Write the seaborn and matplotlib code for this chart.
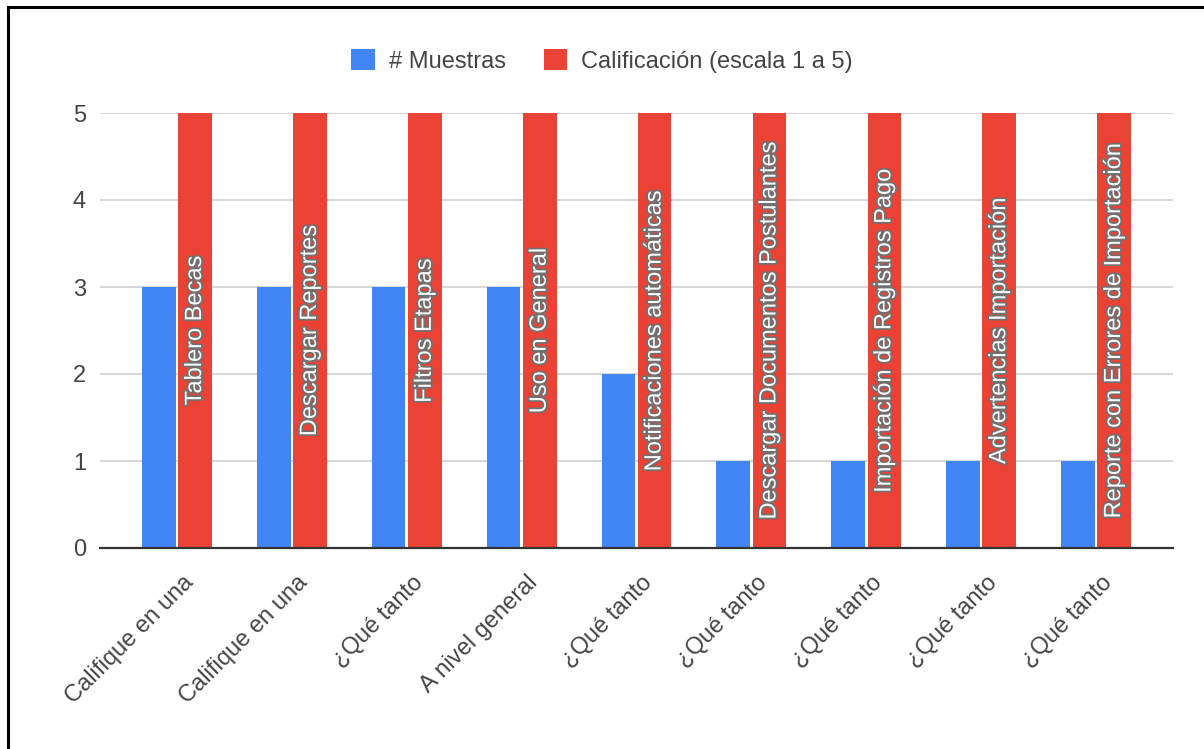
import matplotlib
matplotlib.use("Agg")
import matplotlib.pyplot as plt
import matplotlib.patheffects as pe
from matplotlib.patches import Rectangle
from matplotlib.transforms import ScaledTranslation
import seaborn as sns
import pandas as pd

# Survey results: one group per evaluated feature
areas = [
    "Tablero Becas",
    "Descargar Reportes",
    "Filtros Etapas",
    "Uso en General",
    "Notificaciones automáticas",
    "Descargar Documentos Postulantes",
    "Importación de Registros Pago",
    "Advertencias Importación",
    "Reporte con Errores de Importación",
]
preguntas = [
    "Califique en una",
    "Califique en una",
    "¿Qué tanto",
    "A nivel general",
    "¿Qué tanto",
    "¿Qué tanto",
    "¿Qué tanto",
    "¿Qué tanto",
    "¿Qué tanto",
]
muestras = [3, 3, 3, 3, 2, 1, 1, 1, 1]
calificacion = [5, 5, 5, 5, 5, 5, 5, 5, 5]
series = ["# Muestras", "Calificación (escala 1 a 5)"]
yticks = [0, 1, 2, 3, 4, 5]

df = pd.DataFrame({
    "area": areas * 2,
    "serie": [series[0]] * len(areas) + [series[1]] * len(areas),
    "valor": muestras + calificacion,
})

sns.set_theme(style="white")
plt.rcParams["font.family"] = ["Liberation Sans", "DejaVu Sans"]

BLUE = "#4285F4"
RED = "#EA4335"
TXT = "#444444"
FS = 17

fig = plt.figure(figsize=(12.04, 7.49), dpi=100)
W, H = 1204, 749
ax = fig.add_axes([100 / W, 1 - 548 / H, (1173 - 100) / W, (548 - 113) / H])

sns.barplot(
    data=df, x="area", y="valor", hue="serie", order=areas, hue_order=series,
    palette=[BLUE, RED], width=0.63, gap=0.07, saturation=1,
    linewidth=0, ax=ax, legend=True,
)

ax.set_xlim(-0.67, len(areas) - 1 + 0.67)
ax.set_ylim(0, 5)
ax.set_yticks(yticks)
ax.set_yticklabels([str(v) for v in yticks], fontsize=FS, color=TXT)
ax.set_xlabel("")
ax.set_ylabel("")

ax.grid(axis="y", color="#d0d0d0", linewidth=1.2)
ax.grid(axis="x", visible=False)
ax.set_axisbelow(True)
for side in ("top", "right", "left"):
    ax.spines[side].set_visible(False)
ax.spines["bottom"].set_color("#333333")
ax.spines["bottom"].set_linewidth(1.6)
ax.spines["bottom"].set_zorder(5)
ax.tick_params(axis="both", length=0)
ax.tick_params(axis="y", pad=10)

# Slanted category labels
ax.set_xticks(range(len(areas)))
ax.set_xticklabels(preguntas, fontsize=FS, color=TXT, rotation=45,
                   ha="right", va="top", rotation_mode="anchor")
ax.tick_params(axis="x", pad=17)
shift = ScaledTranslation(5 / 100, 0, fig.dpi_scale_trans)
for lbl in ax.get_xticklabels():
    lbl.set_transform(lbl.get_transform() + shift)

# Feature names written inside the rating bars
outline = [pe.withStroke(linewidth=2.5, foreground="#707070")]
for bar, nombre, val in zip(ax.containers[1], areas, calificacion):
    cx = bar.get_x() + bar.get_width() / 2
    ax.text(cx, val / 2, nombre, rotation=90, ha="center", va="center",
            fontsize=FS, color="white", path_effects=outline, zorder=6)

# Legend across the top
handles, labels = ax.get_legend_handles_labels()
ax.get_legend().remove()
fig.legend(handles, labels, loc="center", bbox_to_anchor=(0.5, 1 - 61 / H),
           ncol=2, frameon=False, fontsize=FS, labelcolor=TXT,
           handlelength=1.0, handleheight=1.0, handletextpad=0.6,
           columnspacing=1.6)

# Outer frame
fig.patches.append(Rectangle((8 / W, -0.05), 1.2, (1 - 7 / H) + 0.05,
                             transform=fig.transFigure, fill=False,
                             edgecolor="black", linewidth=2.2, zorder=10))

fig.savefig("out.png", dpi=100)
